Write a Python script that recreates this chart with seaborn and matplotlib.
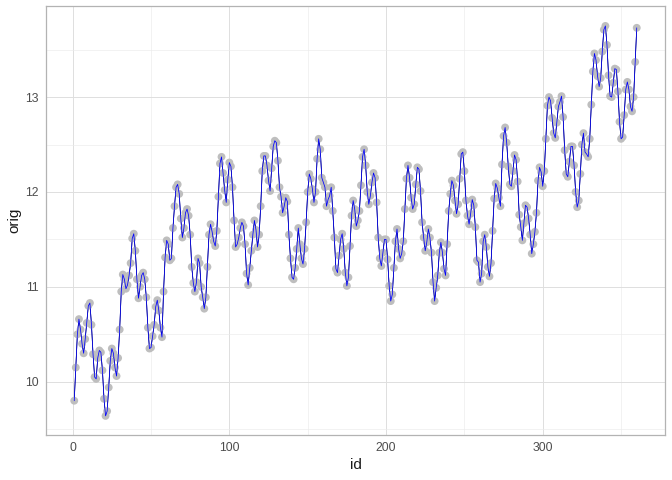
import pandas as pd
import seaborn as sns
import matplotlib.pyplot as plt
import numpy as np

# valeurs, id 1..360
orig = [
    9.80, 10.15, 10.50, 10.66, 10.55, 10.40, 10.30, 10.45, 10.62, 10.80,
    10.83, 10.60, 10.29, 10.05, 10.03, 10.25, 10.33, 10.31, 10.12, 9.82,
    9.64, 9.69, 9.94, 10.22, 10.35, 10.30, 10.15, 10.06, 10.25, 10.55,
    10.95, 11.13, 11.08, 10.98, 11.02, 11.12, 11.25, 11.51, 11.56, 11.38,
    11.08, 10.88, 11.00, 11.12, 11.15, 11.08, 10.89, 10.57, 10.35, 10.36,
    10.48, 10.60, 10.79, 10.86, 10.75, 10.57, 10.47, 10.95, 11.31, 11.49,
    11.45, 11.28, 11.30, 11.62, 11.85, 12.05, 12.08, 11.98, 11.72, 11.52,
    11.62, 11.78, 11.82, 11.75, 11.55, 11.21, 11.04, 10.95, 11.05, 11.30,
    11.25, 11.00, 10.89, 10.77, 10.89, 11.21, 11.55, 11.66, 11.58, 11.48,
    11.43, 11.59, 11.95, 12.30, 12.37, 12.20, 12.02, 11.89, 12.13, 12.31,
    12.27, 12.05, 11.70, 11.42, 11.45, 11.52, 11.62, 11.68, 11.64, 11.45,
    11.14, 11.02, 11.20, 11.38, 11.55, 11.70, 11.60, 11.42, 11.55, 11.85,
    12.22, 12.38, 12.38, 12.28, 12.12, 12.01, 12.25, 12.48, 12.54, 12.52,
    12.33, 12.05, 11.95, 11.78, 11.85, 11.94, 11.90, 11.55, 11.30, 11.10,
    11.08, 11.20, 11.40, 11.62, 11.45, 11.30, 11.24, 11.40, 11.68, 12.00,
    12.19, 12.14, 12.03, 11.89, 12.00, 12.35, 12.56, 12.45, 12.15, 12.10,
    12.05, 11.85, 11.92, 11.96, 12.05, 11.80, 11.52, 11.19, 11.15, 11.33,
    11.50, 11.56, 11.40, 11.15, 11.01, 11.10, 11.43, 11.75, 11.91, 11.82,
    11.64, 11.70, 11.80, 12.07, 12.37, 12.45, 12.28, 12.00, 11.87, 11.96,
    12.10, 12.20, 12.15, 11.89, 11.52, 11.30, 11.22, 11.36, 11.50, 11.50,
    11.29, 11.01, 10.85, 10.92, 11.20, 11.48, 11.61, 11.40, 11.30, 11.35,
    11.48, 11.82, 12.14, 12.28, 12.15, 11.94, 11.82, 11.87, 12.08, 12.26,
    12.24, 12.01, 11.68, 11.52, 11.38, 11.47, 11.61, 11.52, 11.36, 11.05,
    10.85, 10.99, 11.12, 11.36, 11.47, 11.36, 11.19, 11.12, 11.45, 11.80,
    11.98, 12.12, 12.07, 11.91, 11.77, 11.87, 12.14, 12.40, 12.42, 12.22,
    11.91, 11.75, 11.66, 11.77, 11.92, 11.86, 11.63, 11.28, 11.26, 11.05,
    11.14, 11.48, 11.55, 11.42, 11.21, 11.11, 11.25, 11.59, 11.93, 12.09,
    12.04, 11.94, 11.85, 12.29, 12.59, 12.68, 12.52, 12.27, 12.08, 12.06,
    12.22, 12.39, 12.34, 12.11, 11.76, 11.63, 11.49, 11.67, 11.86, 11.84,
    11.72, 11.55, 11.35, 11.45, 11.58, 11.78, 12.12, 12.26, 12.21, 12.06,
    12.22, 12.56, 12.91, 13.00, 12.96, 12.78, 12.62, 12.57, 12.73, 12.90,
    12.95, 13.01, 12.79, 12.44, 12.19, 12.16, 12.32, 12.48, 12.48, 12.28,
    12.00, 11.84, 11.91, 12.19, 12.50, 12.62, 12.42, 12.40, 12.37, 12.56,
    12.92, 13.27, 13.46, 13.39, 13.22, 13.11, 13.20, 13.48, 13.71, 13.75,
    13.55, 13.23, 13.01, 13.00, 13.15, 13.30, 13.29, 13.06, 12.74, 12.56,
    12.58, 12.81, 13.08, 13.16, 13.08, 12.90, 12.85, 13.00, 13.37, 13.73,
]
ids = list(range(1, len(orig) + 1))

df = pd.DataFrame({"id": ids, "orig": orig})

sns.set_style("white")
plt.rcParams['font.family'] = ['Liberation Sans', 'DejaVu Sans']

fig = plt.figure(figsize=(6.72, 4.8), dpi=100)
ax = fig.add_axes([0.0685, 0.094, 0.921, 0.8935])

# lignes et points
sns.lineplot(x="id", y="orig", data=df, color="black", linewidth=0.5, ax=ax, zorder=2)
sns.scatterplot(x="id", y="orig", data=df, color="#bebebe", s=32, edgecolor="none", ax=ax, zorder=3)
sns.lineplot(x="id", y="orig", data=df, color="blue", linewidth=0.55, ax=ax, zorder=4)

ax.set_xlim(-17, 378)
ax.set_ylim(9.44, 13.96)
ax.set_xticks([0, 100, 200, 300])
ax.set_yticks([10, 11, 12, 13])
ax.set_xticks([50, 150, 250, 350], minor=True)
ax.set_yticks([9.5, 10.5, 11.5, 12.5, 13.5], minor=True)
ax.grid(which="major", color="#dedede", linewidth=0.7)
ax.grid(which="minor", color="#ebebeb", linewidth=0.45)
ax.set_axisbelow(True)

for s in ax.spines.values():
    s.set_color("#b3b3b3")
    s.set_linewidth(0.9)
ax.tick_params(which="major", length=3, width=0.7, color="#b3b3b3",
               labelsize=8.8, labelcolor="#4d4d4d", pad=2)
ax.tick_params(which="minor", length=0)
ax.set_xlabel("id", fontsize=11, labelpad=3, color="#1a1a1a")
ax.set_ylabel("orig", fontsize=11, labelpad=3, color="#1a1a1a")

plt.savefig("out.png", dpi=100)
